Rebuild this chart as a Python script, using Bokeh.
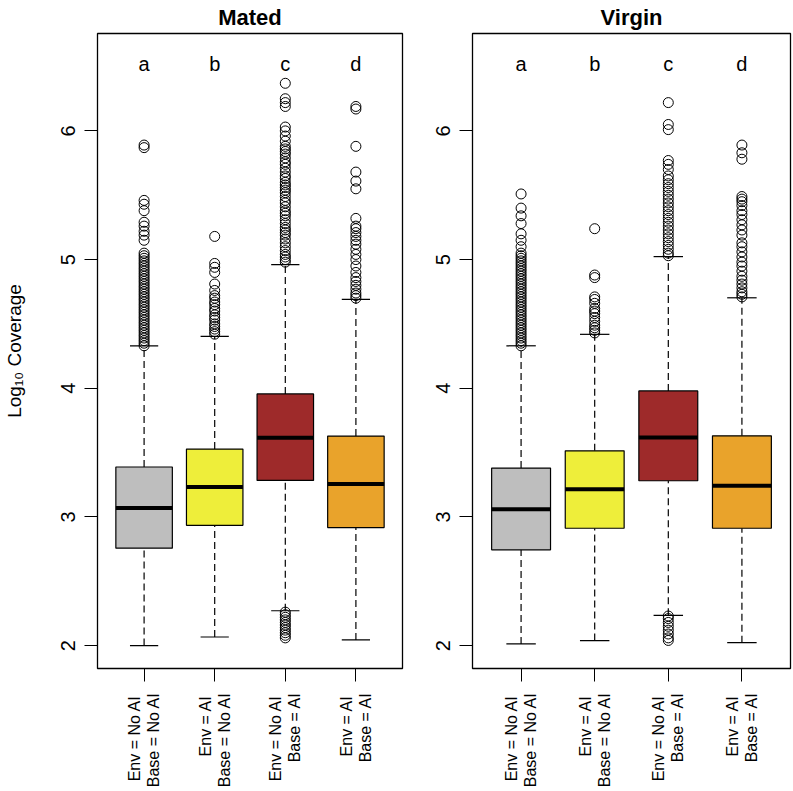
import math
from bokeh.plotting import figure
from bokeh.layouts import row
from bokeh.models import FixedTicker, Range1d, ColumnDataSource, LinearAxis
from bokeh.core.properties import value
from bokeh.embed import file_html
from bokeh.resources import INLINE

FONT = "Liberation Sans"

groups = [1, 2, 3, 4]
label_line1 = {1: "Env = No AI", 2: "Env = AI", 3: "Env = No AI", 4: "Env = AI"}
label_line2 = {1: "Base = No AI", 2: "Base = No AI", 3: "Base = AI", 4: "Base = AI"}
letters = ["a", "b", "c", "d"]
colors = ["#BEBEBE", "#EEEE3A", "#9E2A2A", "#E9A32B"]
y_ticks = [2, 3, 4, 5, 6]

# Mated panel statistics
mated_q1 = [2.757, 2.935, 3.284, 2.917]
mated_med = [3.070, 3.233, 3.615, 3.256]
mated_q3 = [3.388, 3.527, 3.956, 3.628]
mated_lo = [2.000, 2.067, 2.271, 2.044]
mated_hi = [4.330, 4.403, 4.960, 4.690]
mated_out1 = [4.33, 4.35, 4.37, 4.39, 4.41, 4.43, 4.45, 4.47, 4.49, 4.51, 4.53, 4.55,
              4.57, 4.59, 4.61, 4.63, 4.65, 4.67, 4.69, 4.71, 4.73, 4.75, 4.77, 4.79,
              4.81, 4.83, 4.85, 4.87, 4.89, 4.91, 4.93, 4.95, 4.97, 4.99, 5.01, 5.03,
              5.05, 5.15, 5.19, 5.22, 5.26, 5.29, 5.38, 5.43, 5.46, 5.87, 5.89]
mated_out2 = [4.42, 4.44, 4.46, 4.48, 4.50, 4.53, 4.55, 4.57, 4.60, 4.62, 4.65, 4.67,
              4.70, 4.72, 4.76, 4.81, 4.90, 4.94, 4.97, 5.18]
mated_out3 = [4.98, 5.00, 5.02, 5.04, 5.07, 5.10, 5.13, 5.16, 5.19, 5.21, 5.23, 5.25,
              5.28, 5.31, 5.34, 5.36, 5.38, 5.41, 5.44, 5.46, 5.49, 5.52, 5.54, 5.56,
              5.58, 5.60, 5.63, 5.65, 5.68, 5.71, 5.74, 5.76, 5.79, 5.82, 5.84, 5.86,
              5.88, 5.92, 5.96, 6.00, 6.03, 6.19, 6.22, 6.25, 6.37,
              2.06, 2.08, 2.10, 2.12, 2.14, 2.16, 2.18, 2.20, 2.22, 2.24, 2.26]
mated_out4 = [4.70, 4.72, 4.74, 4.77, 4.80, 4.83, 4.86, 4.90, 4.95, 5.00, 5.04, 5.08,
              5.12, 5.15, 5.18, 5.21, 5.24, 5.26, 5.32, 5.55, 5.61, 5.68, 5.88, 6.17, 6.19]

# Virgin panel statistics
virgin_q1 = [2.744, 2.912, 3.281, 2.912]
virgin_med = [3.060, 3.215, 3.618, 3.243]
virgin_q3 = [3.380, 3.514, 3.979, 3.630]
virgin_lo = [2.013, 2.039, 2.235, 2.023]
virgin_hi = [4.330, 4.419, 5.023, 4.703]
virgin_out1 = [4.33, 4.35, 4.37, 4.39, 4.41, 4.43, 4.45, 4.47, 4.49, 4.51, 4.53, 4.55,
               4.57, 4.59, 4.61, 4.63, 4.65, 4.67, 4.69, 4.71, 4.73, 4.75, 4.77, 4.79,
               4.81, 4.83, 4.85, 4.87, 4.89, 4.91, 4.93, 4.95, 4.97, 4.99, 5.01, 5.03,
               5.05, 5.10, 5.15, 5.20, 5.28, 5.34, 5.40, 5.51]
virgin_out2 = [4.43, 4.45, 4.47, 4.49, 4.52, 4.55, 4.58, 4.60, 4.62, 4.66, 4.69, 4.71,
               4.86, 4.88, 5.24]
virgin_out3 = [5.03, 5.05, 5.08, 5.11, 5.14, 5.17, 5.20, 5.23, 5.26, 5.29, 5.32, 5.35,
               5.38, 5.41, 5.44, 5.47, 5.50, 5.53, 5.56, 5.59, 5.62, 5.65, 5.70, 5.74,
               5.77, 6.01, 6.05, 6.22,
               2.04, 2.06, 2.09, 2.12, 2.15, 2.18, 2.21, 2.23]
virgin_out4 = [4.71, 4.73, 4.75, 4.78, 4.81, 4.84, 4.87, 4.91, 4.95, 4.98, 5.02, 5.06,
               5.10, 5.13, 5.19, 5.23, 5.27, 5.31, 5.35, 5.38, 5.42, 5.45, 5.47, 5.49,
               5.78, 5.83, 5.89]

BOX_W = 0.8
STAPLE_W = 0.4
LETTER_Y = 6.52
X_LO, X_HI = 0.34, 4.66
LINE_OFFSET_PX = 9.5


def make_panel(title, q1, med, q3, lo, hi, outs, width, bl, br, ylabel):
    frame_w = width - bl - br
    d = LINE_OFFSET_PX * (X_HI - X_LO) / frame_w
    p = figure(width=width, height=790,
               x_range=Range1d(X_LO, X_HI), y_range=Range1d(1.822, 6.757),
               output_backend="svg", toolbar_location=None,
               min_border_left=bl, min_border_right=br,
               min_border_top=33, min_border_bottom=121,
               title=title)
    p.extra_x_ranges = {"line1": Range1d(X_LO + d, X_HI + d),
                        "line2": Range1d(X_LO - d, X_HI - d)}
    p.title.align = "center"
    p.title.vertical_align = "top"
    p.title.text_font = FONT
    p.title.text_font_size = "22px"
    p.title.text_font_style = "bold"
    p.title.text_color = "black"
    p.title.standoff = 4
    p.grid.visible = False
    p.outline_line_color = "black"
    p.outline_line_width = 1.3
    p.background_fill_color = "white"
    p.border_fill_color = "white"

    src = ColumnDataSource(dict(x=groups, q1=q1, med=med, q3=q3, lo=lo, hi=hi,
                                color=colors, letter=letters,
                                x0=[g - BOX_W / 2 for g in groups],
                                x1=[g + BOX_W / 2 for g in groups],
                                s0=[g - STAPLE_W / 2 for g in groups],
                                s1=[g + STAPLE_W / 2 for g in groups],
                                ly=[LETTER_Y] * 4))
    # whiskers
    p.segment(x0="x", y0="q3", x1="x", y1="hi", source=src, line_color="black",
              line_width=1.2, line_dash="7 4")
    p.segment(x0="x", y0="lo", x1="x", y1="q1", source=src, line_color="black",
              line_width=1.2, line_dash="7 4")
    # staples
    p.segment(x0="s0", y0="hi", x1="s1", y1="hi", source=src, line_color="black", line_width=1.2)
    p.segment(x0="s0", y0="lo", x1="s1", y1="lo", source=src, line_color="black", line_width=1.2)
    # boxes
    p.vbar(x="x", width=BOX_W, bottom="q1", top="q3", source=src,
           fill_color="color", line_color="black", line_width=1.2)
    # medians
    p.segment(x0="x0", y0="med", x1="x1", y1="med", source=src, line_color="black", line_width=4)
    # outliers
    ox, oy = [], []
    for g, vals in zip(groups, outs):
        ox += [g] * len(vals)
        oy += vals
    p.scatter(ox, oy, size=10, marker="circle", fill_color=None,
              line_color="black", line_width=1)
    # letters
    p.text(x="x", y="ly", text="letter", source=src, text_font=value(FONT),
           text_font_size="20px", text_align="center", text_baseline="middle",
           text_color="black")

    # main x axis: tick marks only (drawn as minor ticks, so no label texts)
    xa = p.xaxis[0]
    xa.ticker = FixedTicker(ticks=[], minor_ticks=groups)
    xa.major_label_standoff = 0
    xa.major_tick_out = 13
    xa.major_tick_in = 0
    xa.major_tick_line_color = None
    xa.minor_tick_out = 13
    xa.minor_tick_in = 0
    xa.minor_tick_line_color = "black"
    xa.minor_tick_line_width = 1
    xa.axis_line_color = None

    def label_axis(rng, labels, standoff):
        ax = LinearAxis(x_range_name=rng, ticker=FixedTicker(ticks=groups),
                        major_label_overrides=labels,
                        major_label_orientation=math.pi / 2,
                        major_label_text_font=FONT,
                        major_label_text_font_size="16px",
                        major_label_text_color="black",
                        major_label_standoff=standoff,
                        major_tick_out=0, major_tick_in=0,
                        major_tick_line_color=None, minor_tick_line_color=None,
                        axis_line_color=None)
        p.add_layout(ax, "below")
        return ax

    label_axis("line2", label_line2, 11)
    label_axis("line1", label_line1, -95)

    ya = p.yaxis[0]
    ya.ticker = FixedTicker(ticks=y_ticks)
    ya.major_label_orientation = "parallel"
    ya.major_label_text_font = FONT
    ya.major_label_text_font_size = "20px"
    ya.major_label_text_color = "black"
    ya.major_label_standoff = 9
    ya.major_tick_out = 13
    ya.major_tick_in = 0
    ya.major_tick_line_color = "black"
    ya.minor_tick_line_color = None
    ya.axis_line_color = None
    if ylabel:
        ya.axis_label = ylabel
        ya.axis_label_text_font = FONT
        ya.axis_label_text_font_size = "19px"
        ya.axis_label_text_font_style = "normal"
        ya.axis_label_text_color = "black"
        ya.axis_label_standoff = 34
    return p


left = make_panel("Mated", mated_q1, mated_med, mated_q3, mated_lo, mated_hi,
                  [mated_out1, mated_out2, mated_out3, mated_out4],
                  416, 96, 14, "Log\u2081\u2080 Coverage")
right = make_panel("Virgin", virgin_q1, virgin_med, virgin_q3, virgin_lo, virgin_hi,
                   [virgin_out1, virgin_out2, virgin_out3, virgin_out4],
                   376, 56, 2, None)

layout = row(left, right)
open("out.html", "w").write(file_html(layout, INLINE))
